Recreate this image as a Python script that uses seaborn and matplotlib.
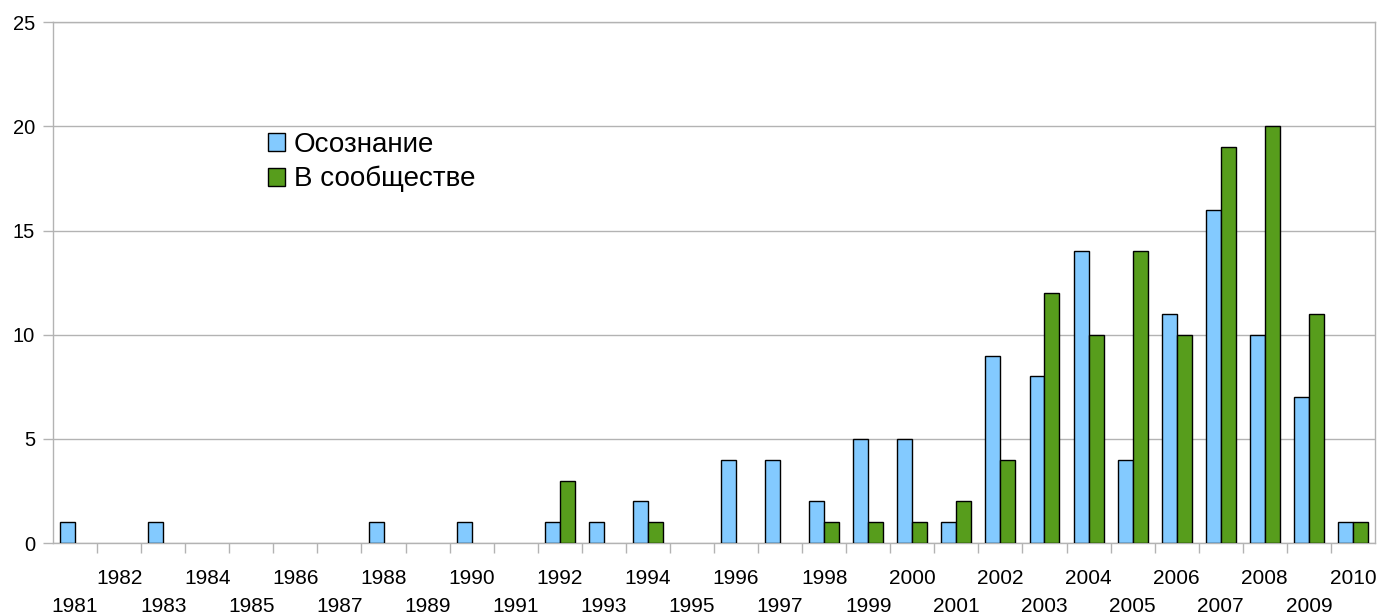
import numpy as np
import pandas as pd
import seaborn as sns
import matplotlib.pyplot as plt
from matplotlib.ticker import FixedLocator

years = list(range(1981, 2011))
osoznanie = [1, 0, 1, 0, 0, 0, 0, 1, 0, 1, 0, 1, 1, 2, 0, 4, 4, 2, 5, 5,
             1, 9, 8, 14, 4, 11, 16, 10, 7, 1]
soobshchestvo = [0, 0, 0, 0, 0, 0, 0, 0, 0, 0, 0, 3, 0, 1, 0, 0, 0, 1, 1, 1,
                 2, 4, 12, 10, 14, 10, 19, 20, 11, 1]
series = ['Осознание', 'В сообществе']
colors = ['#83caff', '#579d1c']

data = pd.DataFrame({
    'year': [str(y) for y in years] * 2,
    'count': osoznanie + soobshchestvo,
    'series': [series[0]] * len(years) + [series[1]] * len(years),
})
data = data[data['count'] > 0]

plt.rcParams['font.family'] = ['Liberation Sans', 'DejaVu Sans']
grid_color = '#b3b3b3'

fig = plt.figure(figsize=(13.78, 6.15), dpi=100)
ax = fig.add_axes([0.0385, 0.117, 0.9593, 0.847])
sns.barplot(data, x='year', y='count', hue='series', order=[str(y) for y in years],
            hue_order=series, palette=colors, width=0.68, edgecolor='black',
            linewidth=1, saturation=1, ax=ax, zorder=3)

ax.set_xlim(-0.5, len(years) - 0.5)
ax.set_ylim(0, 25)
ax.set_yticks(range(0, 26, 5))
ax.yaxis.grid(True, color=grid_color, linewidth=1, zorder=0)
ax.set_axisbelow(True)
for s in ax.spines.values():
    s.set_color(grid_color)
    s.set_linewidth(1)
ax.set_xlabel('')
ax.set_ylabel('')

# alternate rows of year labels
ax.set_xticks(range(len(years)))
ax.set_xticklabels([str(y) if y % 2 == 0 else '\n' + str(y) for y in years],
                   fontsize=15, linespacing=1.56)
ax.tick_params(axis='x', which='major', length=0, pad=19)
ax.xaxis.set_minor_locator(FixedLocator(np.arange(0.5, len(years) - 0.5, 1)))
ax.tick_params(axis='x', which='minor', length=7, color=grid_color, width=1)
ax.tick_params(axis='y', length=7, color=grid_color, width=1, labelsize=14.5, pad=6)

ax.legend(loc='upper left', bbox_to_anchor=(0.1625, 0.79), frameon=False,
          fontsize=20, handlelength=0.62, handleheight=0.62, handletextpad=0.32,
          labelspacing=0.3, borderpad=0, borderaxespad=0)

fig.savefig('out.png', dpi=100)
